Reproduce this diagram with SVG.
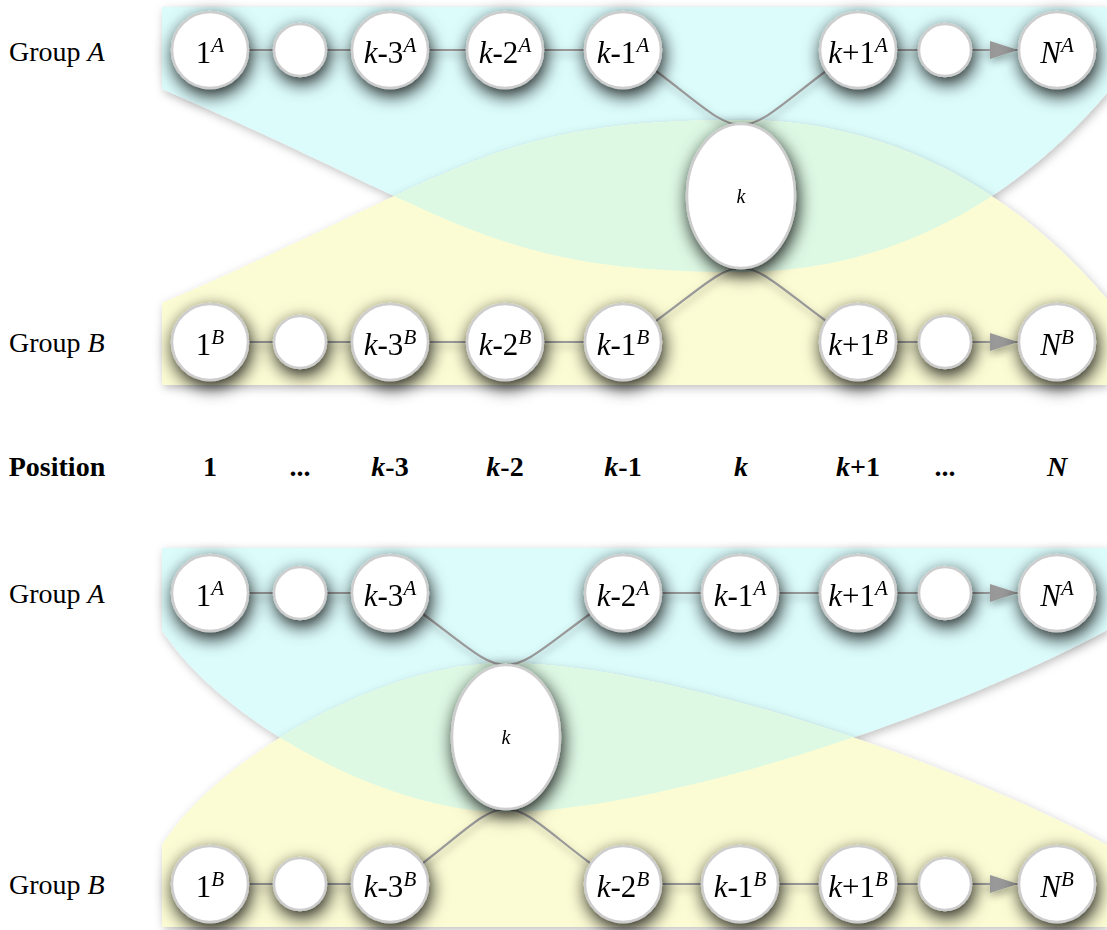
<svg xmlns="http://www.w3.org/2000/svg" width="1107" height="930" viewBox="0 0 1107 930">
<defs>
<style>
.bgc{fill:#dcfcfc}
.bgy{fill:#fcfcd4}
.bgg{fill:#ddf9e4}
.node circle,.node ellipse{fill:#fff;stroke:#cdcdcd;stroke-width:2.5}
text{font-family:"Liberation Serif","Times New Roman",serif;fill:#000}
.lbl{font-size:31px;text-anchor:middle}
.klbl{font-size:20px;font-style:italic;text-anchor:middle}
.it{font-style:italic}
.sup{font-size:21px;font-style:italic}
.grp{font-size:28px}
.pos{font-size:28px;font-weight:bold;text-anchor:middle}
.conn path,.conn line{stroke:#999;stroke-width:2.2;fill:none}
</style>
<filter id="nsh" x="-60%" y="-60%" width="220%" height="220%">
<feDropShadow dx="2" dy="6" stdDeviation="9" flood-color="#000" flood-opacity="0.9"/>
</filter>
<filter id="csh" x="-20%" y="-20%" width="140%" height="140%">
<feDropShadow dx="1" dy="4" stdDeviation="4" flood-color="#000" flood-opacity="0.35"/>
</filter>
<filter id="bsh" x="-10%" y="-20%" width="120%" height="140%">
<feDropShadow dx="2" dy="3" stdDeviation="5" flood-color="#000" flood-opacity="0.25"/>
</filter>
<marker id="arr" markerUnits="userSpaceOnUse" markerWidth="28" markerHeight="18" refX="28" refY="9" orient="auto">
<path d="M0,0 L28,9 L0,18 Z" fill="#999"/>
</marker>
<clipPath id="clipTop"><path d="M162,7 H1107 V93 C1050,160 930,272 740,272 C490,272 462,218 162,89 Z"/></clipPath>
<clipPath id="clipBot"><path d="M162,548 H1107 V630 C930,725 650,812 505,812 C380,812 215,715 162,630 Z"/></clipPath>
</defs>

<g id="background">
<path class="bgc" filter="url(#bsh)" d="M162,7 H1107 V93 C1050,160 930,272 740,272 C490,272 462,218 162,89 Z"/>
<path class="bgy" filter="url(#bsh)" d="M162,385 H1107 V299 C1050,232 930,120 740,120 C490,120 462,174 162,303 Z"/>
<path class="bgg" clip-path="url(#clipTop)" d="M162,385 H1107 V299 C1050,232 930,120 740,120 C490,120 462,174 162,303 Z"/>
<path class="bgc" filter="url(#bsh)" d="M162,548 H1107 V630 C930,725 650,812 505,812 C380,812 215,715 162,630 Z"/>
<path class="bgy" filter="url(#bsh)" d="M162,927 H1107 V845 C930,750 650,663 505,663 C380,663 215,760 162,845 Z"/>
<path class="bgg" clip-path="url(#clipBot)" d="M162,927 H1107 V845 C930,750 650,663 505,663 C380,663 215,760 162,845 Z"/>
</g>

<g id="labels">
<text class="grp" x="9" y="61">Group <tspan class="it">A</tspan></text>
<text class="grp" x="9" y="352">Group <tspan class="it">B</tspan></text>
<text class="grp" x="9" y="603">Group <tspan class="it">A</tspan></text>
<text class="grp" x="9" y="894">Group <tspan class="it">B</tspan></text>
<text class="pos" x="57" y="476">Position</text>
<text class="pos" x="210" y="476">1</text>
<text class="pos" x="300" y="476">...</text>
<text class="pos" x="390" y="476"><tspan class="it">k</tspan>-3</text>
<text class="pos" x="505" y="476"><tspan class="it">k</tspan>-2</text>
<text class="pos" x="623" y="476"><tspan class="it">k</tspan>-1</text>
<text class="pos" x="741" y="476"><tspan class="it">k</tspan></text>
<text class="pos" x="858" y="476"><tspan class="it">k</tspan>+1</text>
<text class="pos" x="945" y="476">...</text>
<text class="pos" x="1057" y="476"><tspan class="it">N</tspan></text>
</g>

<g id="connectors" class="conn" filter="url(#csh)">
<line x1="210" y1="50" x2="300" y2="50"/>
<line x1="300" y1="50" x2="390" y2="50"/>
<line x1="390" y1="50" x2="505" y2="50"/>
<line x1="505" y1="50" x2="623" y2="50"/>
<path d="M656,71 C700,104 720,125 741,125 C762,125 782,104 826,71"/>
<line x1="858" y1="50" x2="945" y2="50"/>
<line x1="971" y1="50" x2="1018" y2="50" marker-end="url(#arr)"/>
<line x1="210" y1="342" x2="300" y2="342"/>
<line x1="300" y1="342" x2="390" y2="342"/>
<line x1="390" y1="342" x2="505" y2="342"/>
<line x1="505" y1="342" x2="623" y2="342"/>
<path d="M656,321 C700,289 720,268 741,268 C762,268 782,289 826,321"/>
<line x1="858" y1="342" x2="945" y2="342"/>
<line x1="971" y1="342" x2="1018" y2="342" marker-end="url(#arr)"/>
<line x1="210" y1="593" x2="300" y2="593"/>
<line x1="300" y1="593" x2="390" y2="593"/>
<path d="M423,614 C465,645 485,665 506,665 C527,665 547,645 590,614"/>
<line x1="623" y1="593" x2="740" y2="593"/>
<line x1="740" y1="593" x2="858" y2="593"/>
<line x1="858" y1="593" x2="945" y2="593"/>
<line x1="971" y1="593" x2="1018" y2="593" marker-end="url(#arr)"/>
<line x1="210" y1="884" x2="300" y2="884"/>
<line x1="300" y1="884" x2="390" y2="884"/>
<path d="M423,863 C465,831 485,809 506,809 C527,809 547,831 590,863"/>
<line x1="623" y1="884" x2="740" y2="884"/>
<line x1="740" y1="884" x2="858" y2="884"/>
<line x1="858" y1="884" x2="945" y2="884"/>
<line x1="971" y1="884" x2="1018" y2="884" marker-end="url(#arr)"/>
</g>

<g id="nodes" filter="url(#nsh)">
<g id="t-a1" class="node"><circle cx="210" cy="50" r="38"/><text class="lbl" x="210" y="63">1<tspan class="sup" dy="-11">A</tspan></text></g>
<g id="t-a2" class="node"><circle cx="300" cy="50" r="26"/></g>
<g id="t-a3" class="node"><circle cx="390" cy="50" r="38"/><text class="lbl" x="390" y="63"><tspan class="it">k</tspan>-3<tspan class="sup" dy="-11">A</tspan></text></g>
<g id="t-a4" class="node"><circle cx="505" cy="50" r="38"/><text class="lbl" x="505" y="63"><tspan class="it">k</tspan>-2<tspan class="sup" dy="-11">A</tspan></text></g>
<g id="t-a5" class="node"><circle cx="623" cy="50" r="38"/><text class="lbl" x="623" y="63"><tspan class="it">k</tspan>-1<tspan class="sup" dy="-11">A</tspan></text></g>
<g id="t-a7" class="node"><circle cx="858" cy="50" r="38"/><text class="lbl" x="858" y="63"><tspan class="it">k</tspan>+1<tspan class="sup" dy="-11">A</tspan></text></g>
<g id="t-a8" class="node"><circle cx="945" cy="50" r="26"/></g>
<g id="t-a9" class="node"><circle cx="1057" cy="50" r="38"/><text class="lbl" x="1057" y="63"><tspan class="it">N</tspan><tspan class="sup" dy="-11">A</tspan></text></g>
<g id="t-k" class="node"><ellipse cx="741" cy="196" rx="54" ry="72"/><text class="klbl" x="741" y="203">k</text></g>
<g id="t-b1" class="node"><circle cx="210" cy="342" r="38"/><text class="lbl" x="210" y="355">1<tspan class="sup" dy="-11">B</tspan></text></g>
<g id="t-b2" class="node"><circle cx="300" cy="342" r="26"/></g>
<g id="t-b3" class="node"><circle cx="390" cy="342" r="38"/><text class="lbl" x="390" y="355"><tspan class="it">k</tspan>-3<tspan class="sup" dy="-11">B</tspan></text></g>
<g id="t-b4" class="node"><circle cx="505" cy="342" r="38"/><text class="lbl" x="505" y="355"><tspan class="it">k</tspan>-2<tspan class="sup" dy="-11">B</tspan></text></g>
<g id="t-b5" class="node"><circle cx="623" cy="342" r="38"/><text class="lbl" x="623" y="355"><tspan class="it">k</tspan>-1<tspan class="sup" dy="-11">B</tspan></text></g>
<g id="t-b7" class="node"><circle cx="858" cy="342" r="38"/><text class="lbl" x="858" y="355"><tspan class="it">k</tspan>+1<tspan class="sup" dy="-11">B</tspan></text></g>
<g id="t-b8" class="node"><circle cx="945" cy="342" r="26"/></g>
<g id="t-b9" class="node"><circle cx="1057" cy="342" r="38"/><text class="lbl" x="1057" y="355"><tspan class="it">N</tspan><tspan class="sup" dy="-11">B</tspan></text></g>
<g id="b-a1" class="node"><circle cx="210" cy="593" r="38"/><text class="lbl" x="210" y="606">1<tspan class="sup" dy="-11">A</tspan></text></g>
<g id="b-a2" class="node"><circle cx="300" cy="593" r="26"/></g>
<g id="b-a3" class="node"><circle cx="390" cy="593" r="38"/><text class="lbl" x="390" y="606"><tspan class="it">k</tspan>-3<tspan class="sup" dy="-11">A</tspan></text></g>
<g id="b-a4" class="node"><circle cx="623" cy="593" r="38"/><text class="lbl" x="623" y="606"><tspan class="it">k</tspan>-2<tspan class="sup" dy="-11">A</tspan></text></g>
<g id="b-a5" class="node"><circle cx="740" cy="593" r="38"/><text class="lbl" x="740" y="606"><tspan class="it">k</tspan>-1<tspan class="sup" dy="-11">A</tspan></text></g>
<g id="b-a7" class="node"><circle cx="858" cy="593" r="38"/><text class="lbl" x="858" y="606"><tspan class="it">k</tspan>+1<tspan class="sup" dy="-11">A</tspan></text></g>
<g id="b-a8" class="node"><circle cx="945" cy="593" r="26"/></g>
<g id="b-a9" class="node"><circle cx="1057" cy="593" r="38"/><text class="lbl" x="1057" y="606"><tspan class="it">N</tspan><tspan class="sup" dy="-11">A</tspan></text></g>
<g id="b-k" class="node"><ellipse cx="506" cy="737" rx="54" ry="72"/><text class="klbl" x="506" y="744">k</text></g>
<g id="b-b1" class="node"><circle cx="210" cy="884" r="38"/><text class="lbl" x="210" y="897">1<tspan class="sup" dy="-11">B</tspan></text></g>
<g id="b-b2" class="node"><circle cx="300" cy="884" r="26"/></g>
<g id="b-b3" class="node"><circle cx="390" cy="884" r="38"/><text class="lbl" x="390" y="897"><tspan class="it">k</tspan>-3<tspan class="sup" dy="-11">B</tspan></text></g>
<g id="b-b4" class="node"><circle cx="623" cy="884" r="38"/><text class="lbl" x="623" y="897"><tspan class="it">k</tspan>-2<tspan class="sup" dy="-11">B</tspan></text></g>
<g id="b-b5" class="node"><circle cx="740" cy="884" r="38"/><text class="lbl" x="740" y="897"><tspan class="it">k</tspan>-1<tspan class="sup" dy="-11">B</tspan></text></g>
<g id="b-b7" class="node"><circle cx="858" cy="884" r="38"/><text class="lbl" x="858" y="897"><tspan class="it">k</tspan>+1<tspan class="sup" dy="-11">B</tspan></text></g>
<g id="b-b8" class="node"><circle cx="945" cy="884" r="26"/></g>
<g id="b-b9" class="node"><circle cx="1057" cy="884" r="38"/><text class="lbl" x="1057" y="897"><tspan class="it">N</tspan><tspan class="sup" dy="-11">B</tspan></text></g>
</g>
</svg>
